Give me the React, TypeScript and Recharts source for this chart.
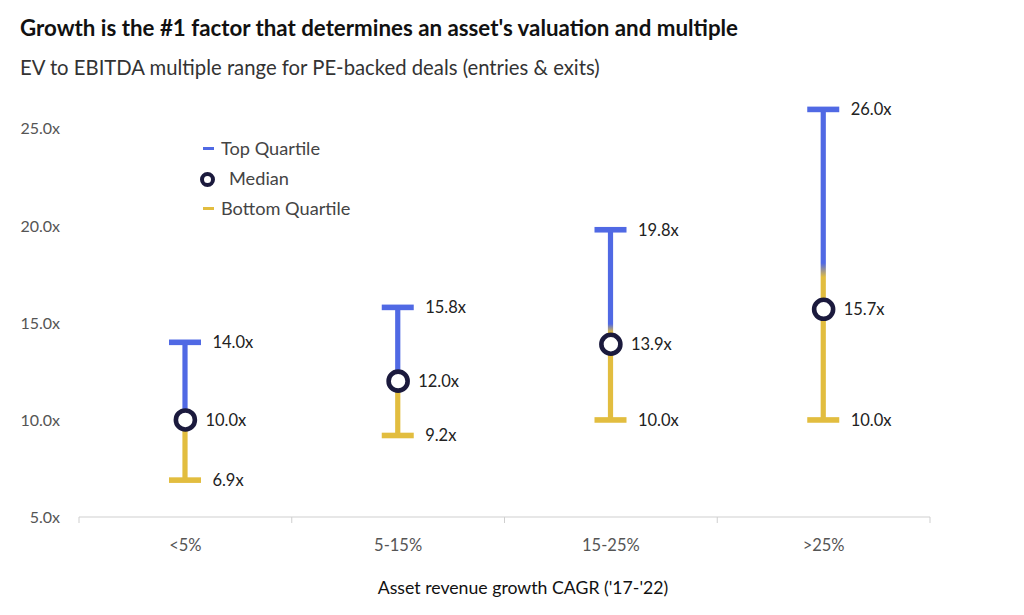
import React from 'react';
import { ComposedChart, Bar, Line, XAxis, YAxis } from 'recharts';

const categories = ['<5%', '5-15%', '15-25%', '>25%'];
const bottomQuartile = [6.9, 9.2, 10.0, 10.0];
const medianValues = [10.0, 12.0, 13.9, 15.7];
const topQuartile = [14.0, 15.8, 19.8, 26.0];
const yTicks = [5, 10, 15, 20, 25];

const data = categories.map((c, i) => ({
  category: c,
  low: bottomQuartile[i],
  median: medianValues[i],
  high: topQuartile[i],
  range: [bottomQuartile[i], topQuartile[i]],
}));

const BLUE = '#5069E4';
const YELLOW = '#E2BD3F';
const NAVY = '#1B1A3D';
const FONT = 'Lato, "Noto Sans", sans-serif';

const W = 1024;
const H = 615;
const PLOT_LEFT = 79;
const PLOT_RIGHT = 930;
const PLOT_TOP = 90;
const PLOT_BOTTOM = 517;
const X_AXIS_H = 30;
const BAND = (PLOT_RIGHT - PLOT_LEFT) / categories.length;

const RangeShape = (props: any) => {
  const { x, y, width, height } = props;
  const top = Math.min(y, y + height);
  const bot = Math.max(y, y + height);
  const cx = x + width / 2;
  return (
    <g>
      <rect x={cx - 2.6} y={top} width={5.2} height={bot - top} fill="url(#rangeGrad)" />
      <rect x={x} y={top - 2.8} width={width} height={5.6} fill={BLUE} />
      <rect x={x} y={bot - 2.8} width={width} height={5.6} fill={YELLOW} />
    </g>
  );
};

const XTick = (props: any) => {
  const { x, payload, index } = props;
  const half = BAND / 2;
  return (
    <g>
      <line x1={x - half} x2={x - half} y1={PLOT_BOTTOM} y2={PLOT_BOTTOM + 6} stroke="#cfcfcf" />
      {index === categories.length - 1 && (
        <line x1={x + half} x2={x + half} y1={PLOT_BOTTOM} y2={PLOT_BOTTOM + 6} stroke="#cfcfcf" />
      )}
      <text x={x} y={PLOT_BOTTOM + 28} dy="0.35em" textAnchor="middle" fill="#555" fontSize={16.5} fontFamily={FONT}>
        {payload.value}
      </text>
    </g>
  );
};

const makeLabel = (dx: number) => (p: any) => (
  <text
    key={`l-${dx}-${p.index}`}
    x={p.x + dx}
    y={p.y}
    dy="0.35em"
    fill="#222"
    fontSize={16.5}
    fontFamily={FONT}
  >
    {Number(p.value).toFixed(1)}x
  </text>
);

const MedianDot = (p: any) => (
  <circle key={`m-${p.index}`} cx={p.cx} cy={p.cy} r={9.5} fill="#fff" stroke={NAVY} strokeWidth={4.6} />
);

export default function App() {
  return (
    <div style={{ position: 'absolute', left: 0, top: 0, width: W, height: H, background: '#fff', fontFamily: FONT }}>
      <div style={{ position: 'absolute', left: 20, top: 15, lineHeight: '26px', fontSize: 22.3, fontWeight: 700, color: '#111', whiteSpace: 'nowrap' }}>
        Growth is the #1 factor that determines an asset's valuation and multiple
      </div>
      <div style={{ position: 'absolute', left: 20, top: 54, lineHeight: '26px', fontSize: 20.3, color: '#333', whiteSpace: 'nowrap' }}>
        EV to EBITDA multiple range for PE-backed deals (entries &amp; exits)
      </div>
      <ComposedChart
        width={W}
        height={H}
        data={data}
        margin={{ top: PLOT_TOP, right: W - PLOT_RIGHT, bottom: H - PLOT_BOTTOM - X_AXIS_H, left: 0 }}
      >
        <defs>
          <linearGradient id="rangeGrad" x1="0" y1="0" x2="0" y2="1">
            <stop offset="0" stopColor={BLUE} />
            <stop offset="0.495" stopColor={BLUE} />
            <stop offset="0.54" stopColor={YELLOW} />
            <stop offset="1" stopColor={YELLOW} />
          </linearGradient>
        </defs>
        <XAxis
          dataKey="category"
          height={X_AXIS_H}
          axisLine={{ stroke: '#cfcfcf' }}
          tickLine={false}
          tick={<XTick />}
          interval={0}
        />
        <YAxis
          type="number"
          domain={[5, 27]}
          ticks={yTicks}
          width={PLOT_LEFT}
          axisLine={false}
          tickLine={false}
          tickSize={0}
          tickMargin={19}
          tickFormatter={(v: number) => `${v.toFixed(1)}x`}
          tick={{ fill: '#555', fontSize: 16, fontFamily: FONT }}
        />
        <Bar dataKey="range" barSize={32} shape={<RangeShape />} isAnimationActive={false} />
        <Line dataKey="high" stroke="none" dot={false} activeDot={false} label={makeLabel(27)} isAnimationActive={false} />
        <Line dataKey="low" stroke="none" dot={false} activeDot={false} label={makeLabel(27)} isAnimationActive={false} />
        <Line dataKey="median" stroke="none" dot={MedianDot} activeDot={false} label={makeLabel(20)} isAnimationActive={false} />
      </ComposedChart>
      {/* Legend */}
      <div style={{ position: 'absolute', left: 203, top: 146.5, width: 11, height: 3, background: BLUE }} />
      <div style={{ position: 'absolute', left: 221, top: 135, lineHeight: '26px', fontSize: 18.2, color: '#444' }}>Top Quartile</div>
      <div style={{ position: 'absolute', left: 200, top: 171.5, width: 15, height: 15, borderRadius: '50%', border: `4px solid ${NAVY}`, boxSizing: 'border-box', background: '#fff' }} />
      <div style={{ position: 'absolute', left: 229, top: 165, lineHeight: '26px', fontSize: 18.2, color: '#444' }}>Median</div>
      <div style={{ position: 'absolute', left: 203, top: 206.5, width: 11, height: 3, background: YELLOW }} />
      <div style={{ position: 'absolute', left: 221, top: 195, lineHeight: '26px', fontSize: 18.2, color: '#444' }}>Bottom Quartile</div>
      {/* X axis title */}
      <div style={{ position: 'absolute', left: 523, top: 575, transform: 'translateX(-50%)', lineHeight: '26px', fontSize: 17.7, color: '#111', whiteSpace: 'nowrap' }}>
        Asset revenue growth CAGR ('17-'22)
      </div>
    </div>
  );
}
